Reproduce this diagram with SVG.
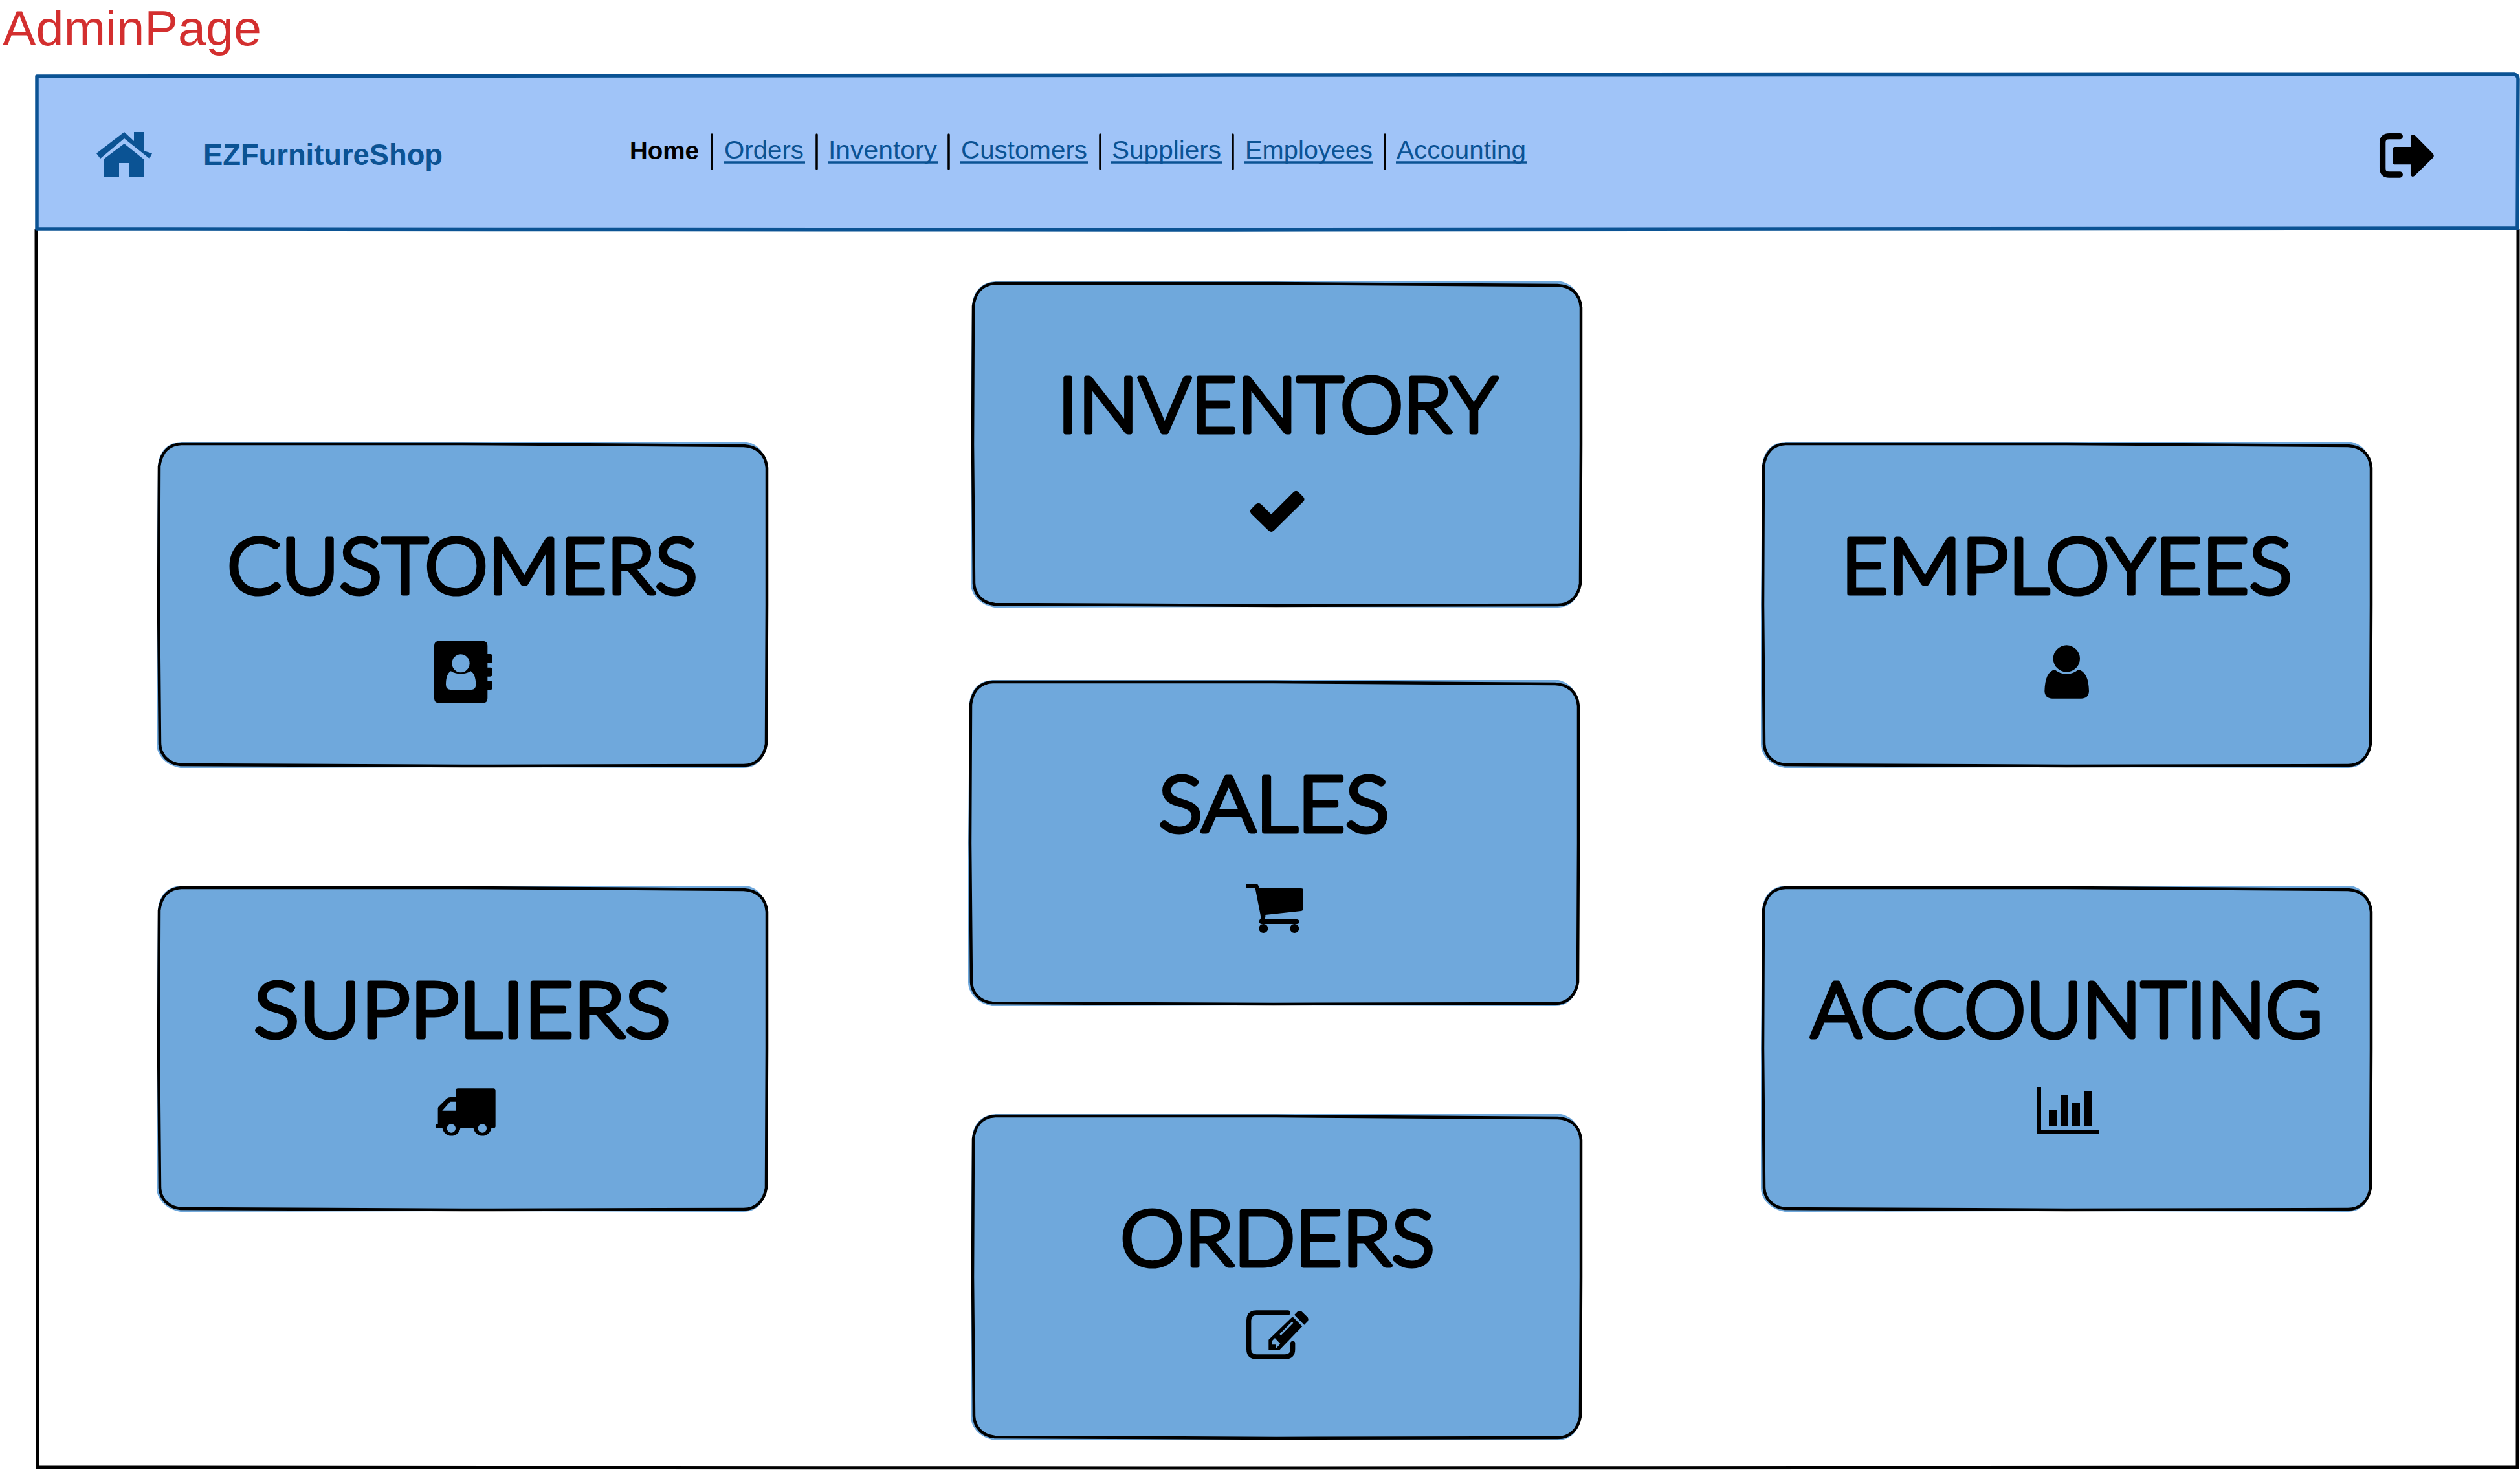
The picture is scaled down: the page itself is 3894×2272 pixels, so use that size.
<svg xmlns="http://www.w3.org/2000/svg" xmlns:xlink="http://www.w3.org/1999/xlink" width="3894" height="2272" viewBox="0 0 3894 2272">
<style>
text{font-family:"Lato","Liberation Sans",sans-serif}
.box{fill:#6fa8dc}
.edge{fill:none;stroke:#000;stroke-width:4.5;stroke-linejoin:round}
.title{font-size:118px;font-weight:300;fill:#000;stroke:#000;stroke-width:7;stroke-linejoin:round;stroke-linecap:round}
.nav{font-size:39px;fill:#0b5394;font-family:"Liberation Sans",sans-serif}
.sep{stroke:#000;stroke-width:3.5;stroke-linecap:round}
.ul{stroke:#0b5394;stroke-width:3.5}
</style>
<defs>
<g id="card">
<path class="box" d="M0,35C2,10 18,-2 38,-2L470,-2L910,-2C928,2 940,16 940,38L941,250L941,465C938,488 925,502 905,502L470,501L35,502C12,498 -2,482 -2,465L-2,250Z"/>
<path class="edge" d="M2,36C5,13 18,2 36,1L470,1L905,4C925,5 939,16 941,38L941,250L940,465C937,484 925,498 905,498L470,499L35,497C16,495 4,482 3,465L1,250Z"/>
</g>
</defs>
<rect width="3894" height="2272" fill="#fff"/>
<text x="4" y="70" font-size="76" fill="#d32f2f" textLength="400" lengthAdjust="spacingAndGlyphs" style="font-family:'Liberation Sans',sans-serif">AdminPage</text>
<g id="frame">
<path d="M56,354L57,1300L58,2268L1900,2269L3890,2268L3891,1300L3891,354" fill="#fff" stroke="#000" stroke-width="5"/>
</g>
<g id="header">
<path d="M57,118L1900,116L3885,115Q3891,116 3891,122L3890,353L1900,355L57,354Z" fill="#a0c4f8" stroke="#0b5394" stroke-width="5.5" stroke-linejoin="round"/>
<path id="home-icon" fill="#0b5394" fill-rule="evenodd" d="M192,204L207,218L207,204L222,204L222,233L235,237L231,245L192,214L155,245L149,237ZM192,222L222,246L222,273L199,273L199,252L184,252L184,273L160,273L160,246Z"/>
<text x="314" y="255" font-size="46" font-weight="700" fill="#0b5394" textLength="370" lengthAdjust="spacingAndGlyphs" style="font-family:'Liberation Sans',sans-serif">EZFurnitureShop</text>
<text x="973" y="246" font-size="39" font-weight="700" fill="#000" textLength="107" lengthAdjust="spacingAndGlyphs" style="font-family:'Liberation Sans',sans-serif">Home</text>
<line class="sep" x1="1100" y1="208" x2="1100" y2="261"/>
<text class="nav" x="1119" y="245" textLength="123" lengthAdjust="spacingAndGlyphs">Orders</text>
<line class="ul" x1="1118" y1="251" x2="1244" y2="251"/>
<line class="sep" x1="1262" y1="208" x2="1262" y2="261"/>
<text class="nav" x="1280" y="245" textLength="168" lengthAdjust="spacingAndGlyphs">Inventory</text>
<line class="ul" x1="1279" y1="251" x2="1449" y2="251"/>
<line class="sep" x1="1466" y1="208" x2="1466" y2="261"/>
<text class="nav" x="1485" y="245" textLength="195" lengthAdjust="spacingAndGlyphs">Customers</text>
<line class="ul" x1="1484" y1="251" x2="1681" y2="251"/>
<line class="sep" x1="1700" y1="208" x2="1700" y2="261"/>
<text class="nav" x="1718" y="245" textLength="169" lengthAdjust="spacingAndGlyphs">Suppliers</text>
<line class="ul" x1="1717" y1="251" x2="1888" y2="251"/>
<line class="sep" x1="1905" y1="208" x2="1905" y2="261"/>
<text class="nav" x="1924" y="245" textLength="197" lengthAdjust="spacingAndGlyphs">Employees</text>
<line class="ul" x1="1923" y1="251" x2="2122" y2="251"/>
<line class="sep" x1="2140" y1="208" x2="2140" y2="261"/>
<text class="nav" x="2158" y="245" textLength="200" lengthAdjust="spacingAndGlyphs">Accounting</text>
<line class="ul" x1="2157" y1="251" x2="2359" y2="251"/>
<g id="logout-icon" transform="translate(3500,100) scale(.3333)">
<path d="M625,332L575,332Q545,332 545,362L545,480Q545,510 575,510L625,510" fill="none" stroke="#000" stroke-width="28" stroke-linecap="round"/>
<path d="M603,381L675,381L675,335Q680,318 695,328L778,412Q787,422 778,432L695,514Q680,526 675,508L675,463L603,463Q592,463 592,452L592,392Q592,381 603,381Z"/>
</g>
</g>
<g id="connectors"></g>
<g id="node-customers"><use xlink:href="#card" href="#card" x="244" y="685"/>
<text class="title" x="351" y="917" textLength="727" lengthAdjust="spacingAndGlyphs">CUSTOMERS</text>
<g transform="translate(600,960) scale(.3333)"><path fill-rule="evenodd" d="M235,92L438,92Q460,92 460,114L460,153L472,153Q482,153 482,163L482,185Q482,195 472,195L460,195L460,215L472,215Q482,215 482,225L482,247Q482,257 472,257L460,257L460,277L472,277Q482,277 482,287L482,309Q482,319 472,319L460,319L460,358Q460,380 438,380L235,380Q213,380 213,358L213,114Q213,92 235,92ZM336,154A41,42 0 1 0 336.1,154ZM290,232Q267,245 267,295Q268,318 290,318L385,318Q405,318 406,295Q405,245 382,232Q336,258 290,232Z"/></g></g>
<g id="node-suppliers"><use xlink:href="#card" href="#card" x="244" y="1371"/>
<text class="title" x="392" y="1603" textLength="644" lengthAdjust="spacingAndGlyphs">SUPPLIERS</text>
<g transform="translate(640,1650) scale(.3333)"><path fill-rule="evenodd" d="M203,97L367,97Q377,97 377,107L377,272Q377,280 367,281L358,281A42,42 0 0 1 275,281L214,281A42,42 0 0 1 131,281L108,281A9,9 0 0 1 108,262L110,262L110,190Q110,183 115,179L150,145Q157,138 167,138L193,138L193,107Q193,97 203,97ZM193,158L167,158L130,200L193,200ZM172,262A20,20 0 1 0 172.1,262ZM316,262A20,20 0 1 0 316.1,262Z"/></g></g>
<g id="node-inventory"><use xlink:href="#card" href="#card" x="1502" y="437"/>
<text class="title" x="1634" y="668" textLength="680" lengthAdjust="spacingAndGlyphs">INVENTORY</text>
<g transform="translate(1900,730) scale(.3333)"><path d="M100,170L122,148Q134,138 146,148L193,195L296,92Q308,80 320,92L342,114Q352,126 342,136L205,271Q193,281 181,271L100,192Q91,181 100,170Z"/></g></g>
<g id="node-sales"><use xlink:href="#card" href="#card" x="1498" y="1053"/>
<text class="title" x="1790" y="1285" textLength="357" lengthAdjust="spacingAndGlyphs">SALES</text>
<g transform="translate(1880,1340) scale(.3333)"><path d="M146,78L182,78Q194,78 197,99L392,99Q402,99 402,109L402,192Q402,202 392,204L226,222L226,232Q226,238 220,243L372,243A10.5,10.5 0 0 1 372,264L208,264Q196,262 197,252Q198,245 206,236L179,99L146,99A10.5,10.5 0 0 1 146,78Z"/><circle cx="217" cy="285" r="21"/><circle cx="361" cy="285" r="21"/></g></g>
<g id="node-orders"><use xlink:href="#card" href="#card" x="1502" y="1724"/>
<text class="title" x="1731" y="1956" textLength="486" lengthAdjust="spacingAndGlyphs">ORDERS</text>
<g transform="translate(1890,2000) scale(.3333)"><path d="M300,87L155,87Q119,87 119,123L119,255Q119,291 155,291L287,291Q323,291 323,255L323,229" fill="none" stroke="#000" stroke-width="22" stroke-linecap="round"/><path fill-rule="evenodd" d="M330,97L345,82Q355,74 365,82L392,108Q398,118 392,127L376,143ZM322,105L367,150L260,261L211,261L211,212ZM319,128L262,186L268,192L325,134ZM240,204L226,218L226,235L245,235L245,253L265,231Z"/></g></g>
<g id="node-employees"><use xlink:href="#card" href="#card" x="2723" y="685"/>
<text class="title" x="2845" y="917" textLength="697" lengthAdjust="spacingAndGlyphs">EMPLOYEES</text>
<g transform="translate(3110,970) scale(.3333)"><circle cx="250" cy="144" r="62"/><path d="M195,195Q250,237 305,195Q352,205 354,295Q352,329 318,329L184,329Q150,329 148,295Q150,205 195,195Z"/></g></g>
<g id="node-accounting"><use xlink:href="#card" href="#card" x="2723" y="1371"/>
<text class="title" x="2798" y="1603" textLength="791" lengthAdjust="spacingAndGlyphs">ACCOUNTING</text>
<g transform="translate(3110,1650) scale(.3333)"><path d="M114,90H132V288H402V306H114Z"/><rect x="168" y="198" width="36" height="72"/><rect x="222" y="126" width="36" height="144"/><rect x="276" y="162" width="36" height="108"/><rect x="330" y="108" width="36" height="162"/></g></g>
</svg>
